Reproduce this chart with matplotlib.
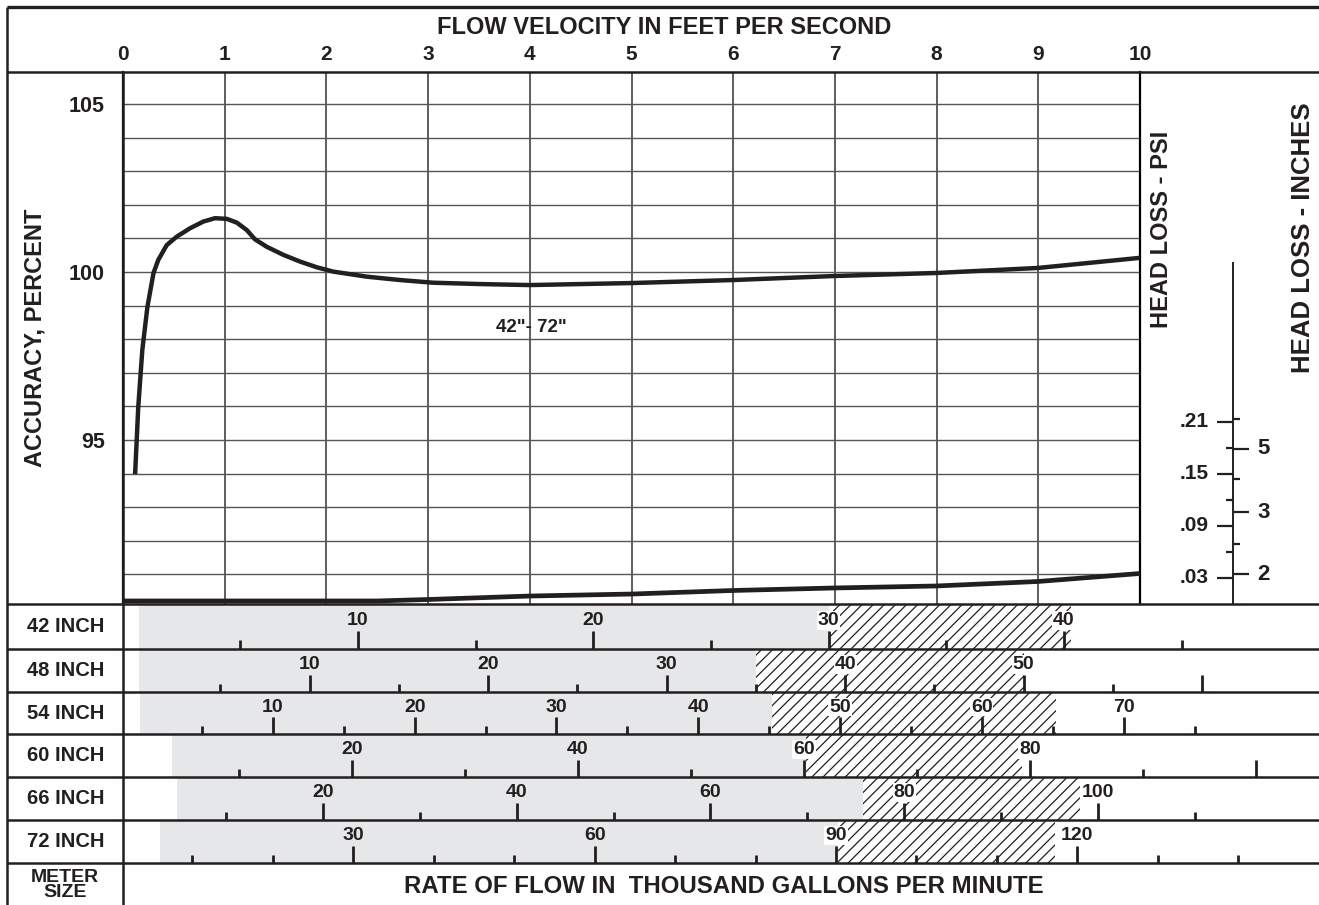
import numpy as np
import matplotlib.pyplot as plt

plt.rcParams['font.family'] = ['Liberation Sans', 'DejaVu Sans']
plt.rcParams['font.weight'] = 'bold'
plt.rcParams['hatch.linewidth'] = 0.9

INK = '#231f20'
GRAY = '#e6e7e8'
W, H = 1319, 905

# accuracy curve, velocity in ft/s vs accuracy in percent
velocity = [0.12, 0.15, 0.19, 0.24, 0.30, 0.347, 0.43, 0.528, 0.659, 0.79, 0.905, 1.02,
            1.118, 1.216, 1.298, 1.413, 1.576, 1.74, 1.905, 2.068, 2.396, 2.724, 3.05,
            3.51, 4.0, 5.0, 6.0, 7.0, 8.0, 9.0, 10.0]
accuracy = [94.05, 95.98, 97.68, 98.96, 99.97, 100.36, 100.80, 101.05, 101.30, 101.50, 101.60, 101.58,
            101.47, 101.25, 100.97, 100.75, 100.51, 100.31, 100.14, 100.01, 99.86, 99.76, 99.68,
            99.64, 99.61, 99.67, 99.76, 99.88, 99.97, 100.12, 100.42]

# head loss curve, velocity vs psi
hl_velocity = [0, 2.5, 3, 4, 5, 6, 7, 8, 9, 10]
hl_psi = [0.0035, 0.0035, 0.0052, 0.0092, 0.0115, 0.0156, 0.0185, 0.0208, 0.026, 0.0352]

# head loss scales
psi_major = [0.03, 0.09, 0.15, 0.21]
psi_labels = ['.03', '.09', '.15', '.21']
psi_minor = [0.06, 0.12, 0.18]
inch_labels = ['2', '3', '5']
inch_major_psi = [0.0346, 0.106, 0.179]
inch_minor_psi = [0.069, 0.144, 0.2135]

# meter size rows (rate of flow in thousand gpm)
meter_sizes = ['42 INCH', '48 INCH', '54 INCH', '60 INCH', '66 INCH', '72 INCH']
gray_start = [0.7, 0.45, 0.64, 4.1, 5.0, 6.0]
gray_end = [30.0, 35.0, 45.2, 60.2, 75.7, 90.3]
hatch_end = [40.3, 50.0, 65.2, 79.3, 98.1, 117.2]
major_ticks = [[10, 20, 30, 40],
               [10, 20, 30, 40, 50, 60],
               [10, 20, 30, 40, 50, 60, 70],
               [20, 40, 60, 80, 100],
               [20, 40, 60, 80, 100],
               [30, 60, 90, 120]]
major_labels = [[10, 20, 30, 40],
                [10, 20, 30, 40, 50],
                [10, 20, 30, 40, 50, 60, 70],
                [20, 40, 60, 80],
                [20, 40, 60, 80, 100],
                [30, 60, 90, 120]]
minor_ticks = [[5, 15, 25, 35, 45],
               [5, 15, 25, 35, 45, 55],
               [5, 15, 25, 35, 45, 55, 65, 75],
               [10, 30, 50, 70, 90],
               [10, 30, 50, 70, 90, 110],
               [10, 20, 40, 50, 70, 80, 100, 110, 130, 140]]
# row scale: flow = (velocity - v0) * k
row_v0 = [-0.003, 0.079, 0.079, 0.030, 0.059, -0.108]
row_k = [4.322, 5.697, 7.172, 9.0, 10.495, 12.643]


def rect(x0, y0, x1, y1):
    return [x0 / W, 1 - y1 / H, (x1 - x0) / W, (y1 - y0) / H]


fig = plt.figure(figsize=(W / 100, H / 100), dpi=100)

# main chart
PX0, PX1, PY0, PY1 = 123, 1140, 72, 604
ax = fig.add_axes(rect(PX0, PY0, PX1, PY1))
ax.set_xlim(0, 10)
ax.set_ylim(90.12, 105.95)
for v in range(1, 10):
    ax.axvline(v, color='#333333', lw=1.1, zorder=1)
for p in range(91, 106):
    ax.axhline(p, color='#555555', lw=1.0, zorder=1)
ax.plot(velocity, accuracy, color=INK, lw=3.2, solid_joinstyle='round', zorder=3)
ax.text(4.02, 98.36, '42"- 72"', fontsize=13.5, ha='center', va='center', color=INK)
ax.set_xticks(range(11))
ax.set_yticks([95, 100, 105])
ax.tick_params(axis='x', top=True, bottom=False, labeltop=True, labelbottom=False,
               length=0, pad=6, labelsize=15, labelcolor=INK)
ax.tick_params(axis='y', length=0, pad=13, labelsize=15.5, labelcolor=INK)
for s in ['top', 'bottom']:
    ax.spines[s].set_visible(False)
ax.spines['left'].set_linewidth(1.6)
ax.spines['right'].set_linewidth(1.6)

hl = ax.twinx()
hl.set_ylim(0, (PY1 - PY0) / 866.7)
hl.plot(hl_velocity, hl_psi, color=INK, lw=3.4, zorder=3)
hl.axis('off')

# head loss scale panel
hx = fig.add_axes(rect(PX1, PY0, W, PY1))
hx.set_xlim(PX1, W)
hx.set_ylim(0, (PY1 - PY0) / 866.7)
hx.axis('off')
hx.vlines(1233, 0, 0.3946, color=INK, lw=1.4)
hx.hlines(psi_major, 1217, 1233, color=INK, lw=1.6)
hx.hlines(psi_minor, 1226, 1233, color=INK, lw=1.6)
hx.hlines(inch_major_psi, 1233, 1249, color=INK, lw=1.6)
hx.hlines(inch_minor_psi, 1233, 1240, color=INK, lw=1.6)
for val, lab in zip(psi_major, psi_labels):
    hx.text(1209, val, lab, ha='right', va='center', fontsize=15, color=INK)
for val, lab in zip(inch_major_psi, inch_labels):
    hx.text(1257, val, lab, ha='left', va='center', fontsize=16, color=INK)

# meter size rows
row_lines = [604, 649, 692, 734, 777, 820, 863]
v_right = (W - PX0) * 10 / (PX1 - PX0)
for i, name in enumerate(meter_sizes):
    y0, y1 = row_lines[i], row_lines[i + 1]
    rx = fig.add_axes(rect(PX0, y0, W, y1))
    k, v0 = row_k[i], row_v0[i]
    rx.set_xlim((0 - v0) * k, (v_right - v0) * k)
    rx.set_ylim(0, 1)
    rx.axis('off')
    rx.axvspan(gray_start[i], gray_end[i], color=GRAY, lw=0, zorder=0)
    rx.axvspan(gray_end[i], hatch_end[i], facecolor='white', edgecolor=INK,
               hatch='///', lw=0, zorder=0)
    rx.vlines(major_ticks[i], 0, 0.4, color=INK, lw=2.0, zorder=2)
    rx.vlines(minor_ticks[i], 0, 0.19, color=INK, lw=2.0, zorder=2)
    for t in major_labels[i]:
        box = None
        if t >= gray_end[i] - 0.5:
            box = dict(facecolor='white', edgecolor='none', pad=0.6)
        rx.text(t, 0.44, str(t), ha='center', va='bottom', fontsize=14,
                color=INK, bbox=box, zorder=3)
    fig.text(66 / W, 1 - (y0 + y1) / 2 / H, name, ha='center', va='center',
             fontsize=14.5, color=INK)

# frame lines
ov = fig.add_axes([0, 0, 1, 1], zorder=20)
ov.set_xlim(0, W)
ov.set_ylim(H, 0)
ov.axis('off')
ov.patch.set_alpha(0)
ov.hlines(7, 7, W, color=INK, lw=2.4)
ov.hlines(72, 7, W, color=INK, lw=1.8)
ov.vlines(7, 7, H, color=INK, lw=1.8)
ov.vlines(123, 72, H, color=INK, lw=1.8)
ov.hlines(row_lines, 7, W, color=INK, lw=1.8)

# texts
fig.text(664 / W, 1 - 28 / H, 'FLOW VELOCITY IN FEET PER SECOND', ha='center', va='center',
         fontsize=17, color=INK)
fig.text(35 / W, 1 - 338 / H, 'ACCURACY, PERCENT', rotation=90, ha='center', va='center',
         fontsize=17, color=INK)
fig.text(1161 / W, 1 - 229 / H, 'HEAD LOSS - PSI', rotation=90, ha='center', va='center',
         fontsize=17, color=INK)
fig.text(1303 / W, 1 - 238 / H, 'HEAD LOSS - INCHES', rotation=90, ha='center', va='center',
         fontsize=18.5, color=INK)
fig.text(724 / W, 1 - 886 / H, 'RATE OF FLOW IN  THOUSAND GALLONS PER MINUTE', ha='center',
         va='center', fontsize=17.3, color=INK)
fig.text(65 / W, 1 - 885 / H, 'METER\nSIZE', ha='center', va='center', fontsize=14,
         linespacing=0.8, color=INK)

fig.savefig('out.png', dpi=100)
